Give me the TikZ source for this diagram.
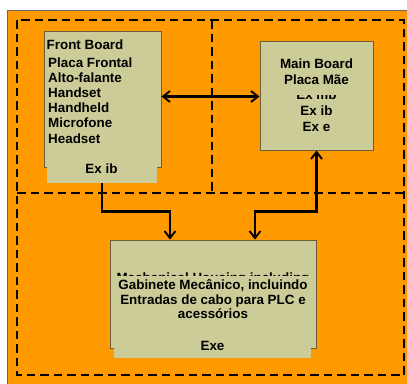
\documentclass[tikz,border=0pt]{standalone}
\usepackage{fontspec}
\setmainfont{Liberation Sans}
\usetikzlibrary{arrows.meta}
\definecolor{orangebg}{HTML}{FF9900}
\definecolor{boxfill}{HTML}{CCCC99}
\definecolor{boxline}{HTML}{6B5E3A}
\begin{document}
\begin{tikzpicture}[x=1pt,y=-1pt,
  txt/.style={inner sep=0pt, font=\fontsize{13.4}{15.2}\selectfont\bfseries},
  blk/.style={fill=boxfill, draw=boxline, line width=0.9pt},
  strip/.style={fill=boxfill, draw=none},
  dashline/.style={line width=2.1pt, dash pattern=on 8.5pt off 5pt},
  tip/.style={},
  conn/.style={line width=2.1pt, {Straight Barb[length=7pt,width=11pt,line width=1.9pt]}-{Straight Barb[length=7pt,width=11pt,line width=1.9pt]}},
  connend/.style={line width=2.1pt, -{Straight Barb[length=7pt,width=11pt,line width=1.9pt]}}]
\useasboundingbox (0,0) rectangle (407,383);
\fill[white] (0,0) rectangle (407,383);
\filldraw[fill=orangebg, draw=black!60, line width=0.8pt] (7,10) rectangle (410,386);
% dashed frames
\draw[dashline] (17,20) rectangle (404,375);
\draw[dashline] (17,193) -- (404,193);
\draw[dashline] (212,20) -- (212,193);

% Front board
\node[blk, minimum width=117pt, minimum height=136pt, inner sep=0pt] (fb) at (102.5,99) {};
\node[strip, minimum width=110pt, minimum height=23pt, inner sep=0pt] (fbs) at (102,171.5) {};
\node[txt, anchor=base west] (fb1) at (46.5,49) {Front Board};
\node[txt, anchor=base west] (fb2) at (48,67) {Placa Frontal};
\node[txt, anchor=base west] (fb3) at (48,82.2) {Alto-falante};
\node[txt, anchor=base west] (fb4) at (48,97.4) {Handset};
\node[txt, anchor=base west] (fb5) at (48,112.6) {Handheld};
\node[txt, anchor=base west] (fb6) at (48,127.8) {Microfone};
\node[txt, anchor=base west] (fb7) at (48,143) {Headset};
\node[txt, anchor=base] (fb8) at (101.5,173.5) {Ex ib};

% Main board
\node[blk, minimum width=113pt, minimum height=109pt, inner sep=0pt] (mb) at (316.5,95.5) {};
\begin{scope}
\clip (262,95.3) rectangle (371,120);
\node[txt, anchor=base] (mb3) at (316.5,99.5) {Ex mb};
\end{scope}
\node[txt, anchor=base] (mb1) at (316.5,68.3) {Main Board};
\node[txt, anchor=base] (mb2) at (316.5,84) {Placa Mãe};
\node[txt, anchor=base] (mb4) at (316.5,115) {Ex ib};
\node[txt, anchor=base] (mb5) at (316.5,131) {Ex e};

% Mechanical housing
\node[blk, minimum width=206pt, minimum height=108pt, inner sep=0pt] (mh) at (213,294) {};
\node[strip, minimum width=197pt, minimum height=18pt, inner sep=0pt] (mhs) at (212.5,349) {};
\begin{scope}
\clip (112,260) rectangle (314,275.5);
\node[txt, anchor=base] (mh0) at (213,282) {Mechanical Housing including};
\end{scope}
\node[txt, anchor=base] (mh1) at (213,289.5) {Gabinete Mecânico, incluindo};
\node[txt, anchor=base] (mh2) at (213,304.3) {Entradas de cabo para PLC e};
\node[txt, anchor=base] (mh3) at (213,318.5) {acessórios};
\node[txt, anchor=base] (mh4) at (212.5,350) {Exe};

% connectors
\coordinate (a1) at (102,211.5);
\coordinate (a2) at (170,211.5);
\coordinate (b1) at (316.5,211.5);
\coordinate (b2) at (255,211.5);
\draw[conn] (fb.east |- 0,96.5) -- (mb.west |- 0,96.5);
\draw[connend] (fbs.south) -- (a1) -- (a2) -- (a2 |- mh.north);
\draw[conn] (mb.south) -- (b1) -- (b2) -- (b2 |- mh.north);
\end{tikzpicture}
\end{document}
